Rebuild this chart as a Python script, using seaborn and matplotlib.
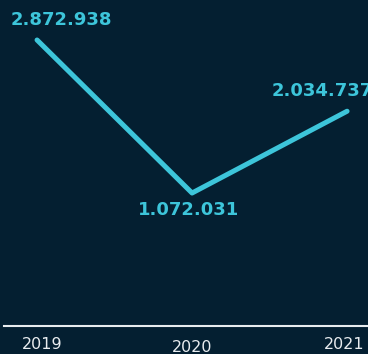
import pandas as pd
import matplotlib
matplotlib.use('Agg')
import matplotlib.pyplot as plt
import matplotlib.transforms as mtrans
import seaborn as sns

years = ['2019', '2020', '2021']
values = [2872938, 1072031, 2034737]
labels = ['2.872.938', '1.072.031', '2.034.737']

bg = '#041f31'
cyan = '#3dc5da'

df = pd.DataFrame({'pos': [0, 1, 2], 'value': values})

sns.set_style('dark')
plt.rcParams['font.family'] = ['DejaVu Sans']

fig = plt.figure(figsize=(3.68, 3.54), dpi=100, facecolor=bg)
ax = fig.add_axes([0, 28 / 354, 1, 326 / 354])
ax.set_facecolor(bg)

sns.lineplot(data=df, x='pos', y='value', color=cyan, linewidth=3.6, ax=ax)

# label offsets in pixels
offsets = [(24, 20), (-3, -17), (-25, 20)]
for i, (lab, off) in enumerate(zip(labels, offsets)):
    ax.annotate(lab, (i, values[i]), xytext=off, textcoords='offset pixels',
                ha='center', va='center', color=cyan, fontsize=13,
                fontweight='bold', annotation_clip=False)

ax.set_xlim(-0.239, 2.135)
ax.set_ylim(-493000, 3343700)
ax.set_xticks([0, 1, 2])
ax.set_xticklabels(years, color='#e8ecef', fontsize=11.5)
ax.set_yticks([])
ax.set_xlabel('')
ax.set_ylabel('')
ax.grid(False)
ax.tick_params(axis='x', length=0, pad=8)
# nudge year labels to where they sit in the original
for lab, (dx, dy) in zip(ax.get_xticklabels(), [(5, 0), (0, -3), (-3, 0)]):
    lab.set_transform(lab.get_transform() + mtrans.Affine2D().translate(dx, dy))
for s in ['top', 'right', 'left']:
    ax.spines[s].set_visible(False)
ax.spines['bottom'].set_color('#e8ecef')
ax.spines['bottom'].set_linewidth(1.5)
ax.spines['bottom'].set_bounds(-0.215, 2.135)

fig.savefig('out.png', dpi=100, facecolor=bg)
